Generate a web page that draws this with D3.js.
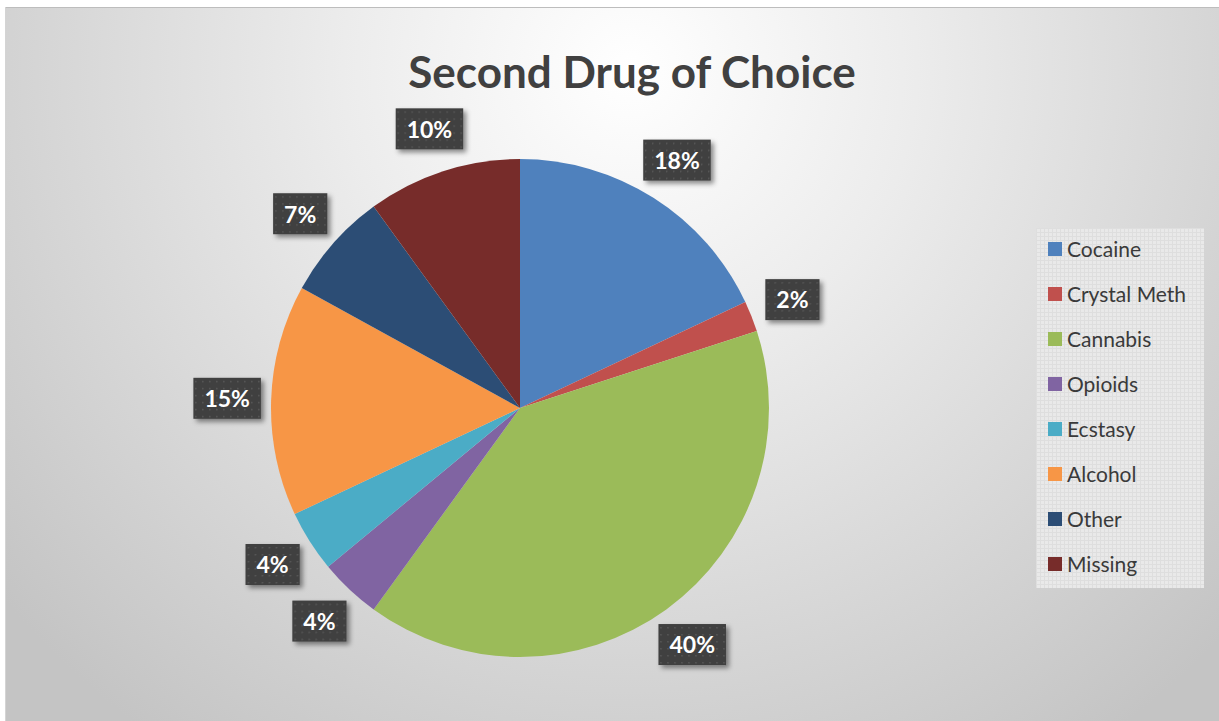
<!DOCTYPE html>
<html>
<head>
<meta charset="utf-8">
<script src="https://cdn.jsdelivr.net/npm/d3@7"></script>
<style>
  body { margin: 0; background: #fff; }
  text { font-family: Lato, "Open Sans", sans-serif; }
</style>
</head>
<body>
<div id="chart"></div>
<script>
var categories = ["Cocaine", "Crystal Meth", "Cannabis", "Opioids", "Ecstasy", "Alcohol", "Other", "Missing"];
var values = [18, 2, 40, 4, 4, 15, 7, 10];
var colors = ["#4F81BD", "#C0504D", "#9BBB59", "#8064A2", "#4BACC6", "#F79646", "#2C4D75", "#772C2A"];

var outwidth = 1219,
    outheight = 721;
var cx = 520, cy = 408, radius = 249, labelRadius = 293;

var svg = d3.select("#chart")
    .append("svg")
    .attr("width", outwidth)
    .attr("height", outheight);

var defs = svg.append("defs");
var grad = defs.append("radialGradient")
    .attr("id", "bg")
    .attr("gradientUnits", "userSpaceOnUse")
    .attr("cx", 630).attr("cy", 70).attr("r", 820);
grad.append("stop").attr("offset", "0").attr("stop-color", "#ffffff");
grad.append("stop").attr("offset", "0.35").attr("stop-color", "#ececec");
grad.append("stop").attr("offset", "1").attr("stop-color", "#c4c4c4");

// dotted pattern for label boxes
var dots = defs.append("pattern")
    .attr("id", "dots")
    .attr("patternUnits", "userSpaceOnUse")
    .attr("width", 7).attr("height", 7);
dots.append("rect").attr("width", 7).attr("height", 7).attr("fill", "#3f3f3f");
dots.append("rect").attr("x", 3).attr("y", 3).attr("width", 1.5).attr("height", 1.5).attr("fill", "#5a5a5a");

// light grid pattern for legend
var grid = defs.append("pattern")
    .attr("id", "grid")
    .attr("patternUnits", "userSpaceOnUse")
    .attr("width", 4).attr("height", 4);
grid.append("rect").attr("width", 4).attr("height", 4).attr("fill", "#e9e9e9");
grid.append("rect").attr("width", 4).attr("height", 1).attr("fill", "#dedede");
grid.append("rect").attr("width", 1).attr("height", 4).attr("fill", "#dedede");

var shadow = defs.append("filter").attr("id", "shadow")
    .attr("x", "-30%").attr("y", "-30%").attr("width", "170%").attr("height", "170%");
shadow.append("feDropShadow")
    .attr("dx", 3).attr("dy", 3).attr("stdDeviation", 2.5)
    .attr("flood-color", "#000").attr("flood-opacity", 0.45);

// chart area
svg.append("rect")
    .attr("x", 5).attr("y", 7)
    .attr("width", outwidth - 5).attr("height", outheight - 7)
    .attr("fill", "url(#bg)");
svg.append("line")
    .attr("x1", 5).attr("x2", outwidth).attr("y1", 7.5).attr("y2", 7.5)
    .attr("stroke", "#bdbdbd");
svg.append("line")
    .attr("x1", 5.5).attr("x2", 5.5).attr("y1", 7).attr("y2", outheight)
    .attr("stroke", "#d4d4d4");

// title
svg.append("text")
    .attr("x", 632).attr("y", 88)
    .attr("text-anchor", "middle")
    .style("font-size", "44px")
    .style("font-weight", "bold")
    .attr("fill", "#404040")
    .text("Second Drug of Choice");

var data = categories.map(function (c, i) { return { name: c, value: values[i], color: colors[i] }; });

var pie = d3.pie().sort(null).value(function (d) { return d.value; });
var arc = d3.arc().innerRadius(0).outerRadius(radius);
var labelArc = d3.arc().innerRadius(labelRadius).outerRadius(labelRadius);
var arcs = pie(data);

var g = svg.append("g").attr("transform", `translate(${cx},${cy})`);
g.selectAll(".slice")
    .data(arcs)
    .join("path")
    .attr("class", "slice")
    .attr("d", arc)
    .attr("fill", function (d) { return d.data.color; });

var labels = g.selectAll(".lbl")
    .data(arcs)
    .join("g")
    .attr("class", "lbl")
    .attr("transform", function (d) { return `translate(${labelArc.centroid(d)})`; });

labels.append("text")
    .attr("text-anchor", "middle")
    .attr("dy", "0.36em")
    .style("font-size", "23px")
    .style("font-weight", "bold")
    .attr("fill", "#ffffff")
    .text(function (d) { return d.data.value + "%"; })
    .each(function () {
        var w = this.getComputedTextLength() + 22;
        d3.select(this.parentNode).insert("rect", "text")
            .attr("x", -w / 2).attr("y", -21)
            .attr("width", w).attr("height", 41)
            .attr("fill", "url(#dots)")
            .attr("filter", "url(#shadow)");
    });

// legend
var legend = svg.append("g").attr("transform", "translate(1036,228)");
legend.append("rect")
    .attr("width", 168).attr("height", 360)
    .attr("fill", "url(#grid)");
var item = legend.selectAll(".leg")
    .data(data)
    .join("g")
    .attr("class", "leg")
    .attr("transform", function (d, i) { return `translate(12,${21 + i * 45})`; });
item.append("rect")
    .attr("x", 0).attr("y", -7)
    .attr("width", 14).attr("height", 14)
    .attr("fill", function (d) { return d.color; });
item.append("text")
    .attr("x", 19).attr("dy", "0.36em")
    .style("font-size", "21px")
    .attr("fill", "#3a3a3a")
    .text(function (d) { return d.name; });
</script>
</body>
</html>
